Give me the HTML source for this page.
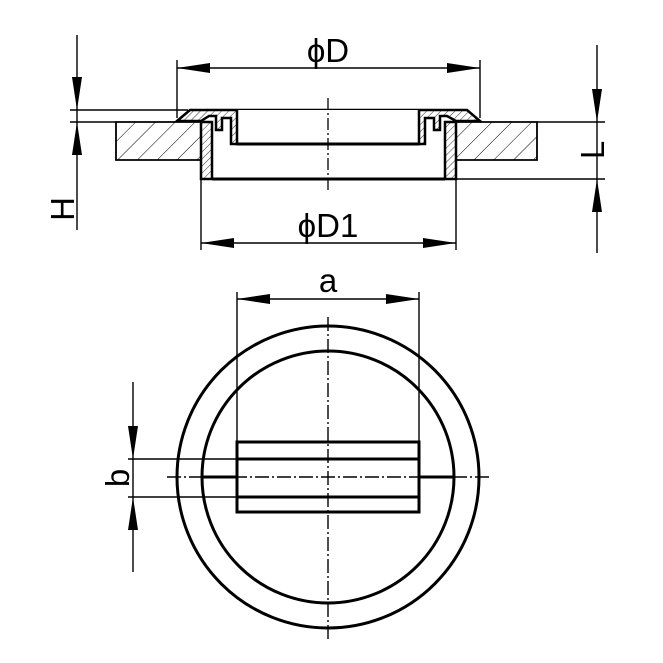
<!DOCTYPE html>
<html><head><style>html,body{margin:0;padding:0;background:#fff}svg{display:block}</style></head><body>
<svg width="663" height="663" viewBox="0 0 663 663" xmlns="http://www.w3.org/2000/svg" font-family="Liberation Sans, sans-serif">
<defs>
<pattern id="h" width="14" height="14" patternUnits="userSpaceOnUse" patternTransform="rotate(45)"><line x1="0" y1="0" x2="0" y2="14" stroke="#000" stroke-width="1"/></pattern>
<pattern id="h2" width="5" height="5" patternUnits="userSpaceOnUse" patternTransform="rotate(45)"><line x1="0" y1="0" x2="0" y2="5" stroke="#000" stroke-width="0.8"/></pattern>
</defs>
<g stroke="#000" fill="none">
<path d="M116,122 H201 V160 H116 Z" fill="url(#h)" stroke-width="1.8"/>
<path d="M456,122 H537 V160 H456 Z" fill="url(#h)" stroke-width="1.8"/>
<path d="M201,122 H212 V179 H201 Z" fill="url(#h2)" stroke-width="2.5"/>
<path d="M445,122 H456 V179 H445 Z" fill="url(#h2)" stroke-width="2.5"/>
<line x1="212" y1="179" x2="445" y2="179" stroke-width="3"/>
<path d="M177,121 L190,110 H467 L480,121 H456 L447,116 H440 V130 H434 V118 H425 V144 H231 V118 H222 V130 H216 V116 H209 L201,121 Z" fill="url(#h2)" stroke-width="2.5"/>
<path d="M237,110 V144 H419 V110" stroke-width="2.5" fill="#fff"/>
<line x1="237" y1="144" x2="419" y2="144" stroke-width="3"/>
<line x1="328" y1="98" x2="328" y2="190" stroke-width="1.3" stroke-dasharray="12,3,2,3"/>
<g stroke-width="1.4">
<line x1="177" y1="60" x2="177" y2="118"/><line x1="480" y1="60" x2="480" y2="118"/>
<line x1="201" y1="180" x2="201" y2="250"/><line x1="456" y1="180" x2="456" y2="250"/>
<line x1="70" y1="110" x2="188" y2="110"/><line x1="70" y1="122" x2="116" y2="122"/>
<line x1="537" y1="122" x2="605" y2="122"/><line x1="456" y1="179" x2="605" y2="179"/>
<line x1="177" y1="68" x2="480" y2="68"/><line x1="201" y1="243" x2="456" y2="243"/>
<line x1="77" y1="35" x2="77" y2="230"/><line x1="597" y1="45" x2="597" y2="253"/>
</g>
</g>
<g fill="#000">
<path d="M177,68 l33,-5 v10 z"/><path d="M480,68 l-33,-5 v10 z"/>
<path d="M201,243 l33,-5 v10 z"/><path d="M456,243 l-33,-5 v10 z"/>
<path d="M77,110 l-5,-33 h10 z"/><path d="M77,122 l-5,33 h10 z"/>
<path d="M597,122 l-5,-33 h10 z"/><path d="M597,179 l-5,33 h10 z"/>
<path d="M237,299 l33,-5 v10 z"/><path d="M419,299 l-33,-5 v10 z"/>
<path d="M133,459 l-5,-33 h10 z"/><path d="M133,497 l-5,33 h10 z"/>
</g>
<g font-size="33" text-anchor="middle">
<text x="328" y="62">ϕD</text>
<text x="328" y="237">ϕD1</text>
<text x="328" y="292">a</text>
<text transform="translate(74,209) rotate(-90)">H</text>
<text transform="translate(604,150) rotate(-90)">L</text>
<text transform="translate(129,478) rotate(-90)">b</text>
</g>
<g stroke="#000" fill="none">
<circle cx="328" cy="477" r="151" stroke-width="3"/>
<circle cx="328" cy="477" r="126" stroke-width="3"/>
<rect x="237" y="442" width="182" height="70" stroke-width="3"/>
<line x1="237" y1="459" x2="419" y2="459" stroke-width="3"/>
<line x1="237" y1="497" x2="419" y2="497" stroke-width="3"/>
<line x1="202" y1="477" x2="237" y2="477" stroke-width="3"/>
<line x1="419" y1="477" x2="454" y2="477" stroke-width="3"/>
<g stroke-width="1.4">
<line x1="237" y1="292" x2="237" y2="442"/><line x1="419" y1="292" x2="419" y2="442"/>
<line x1="237" y1="299" x2="419" y2="299"/>
<line x1="128" y1="459" x2="237" y2="459"/><line x1="128" y1="497" x2="237" y2="497"/>
<line x1="133" y1="382" x2="133" y2="572"/>
<line x1="167" y1="477" x2="490" y2="477" stroke-dasharray="14,3,2,3"/>
<line x1="328" y1="317" x2="328" y2="640" stroke-dasharray="14,3,2,3"/>
</g>
</g>
</svg>
</body></html>
